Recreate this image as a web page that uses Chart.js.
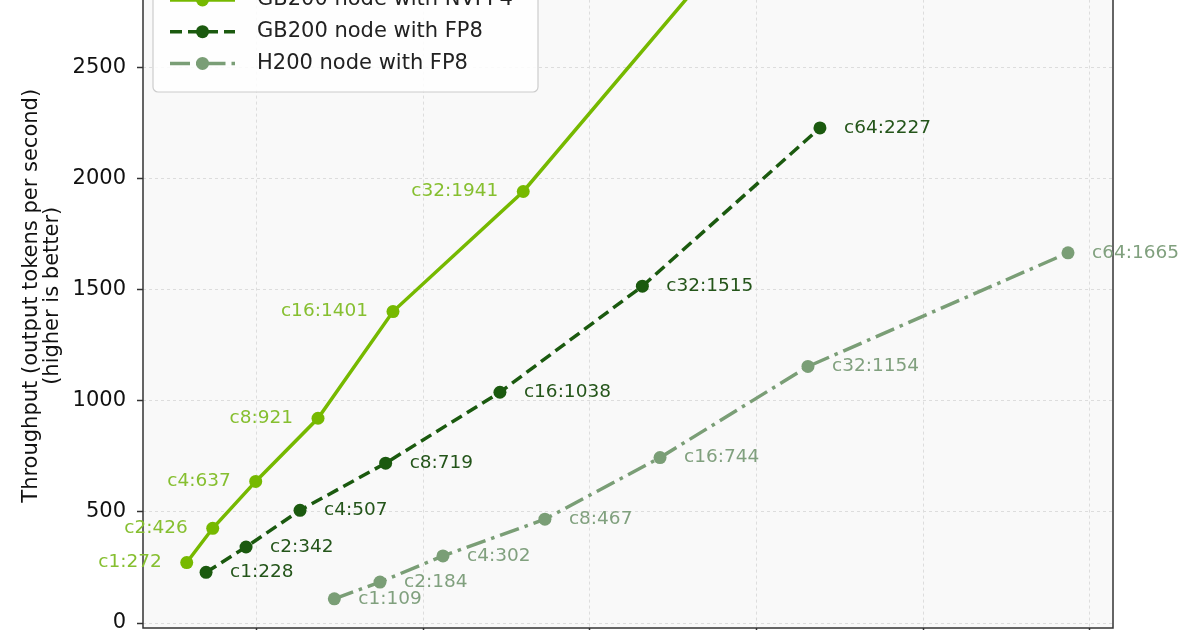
<!DOCTYPE html>
<html>
<head>
<meta charset="utf-8">
<script src="https://cdn.jsdelivr.net/npm/chart.js@4.4.1/dist/chart.umd.min.js"></script>
<style>
    html, body { margin: 0; padding: 0; background: #fff; overflow: hidden; }
    #wrap { position: relative; width: 1200px; height: 630px; overflow: hidden; }
    #throughputChart { position: absolute; left: 0; top: -60px; }
</style>
</head>
<body>
<div id="wrap"><canvas id="throughputChart" width="1200" height="718"></canvas></div>
<script>
const concurrency = ["c1", "c2", "c4", "c8", "c16", "c32", "c64"];

const nvfp4Latency = [5.80, 7.36, 9.94, 13.68, 18.18, 26.0, 40.8];
const nvfp4Throughput = [272, 426, 637, 921, 1401, 1941, 3250];

const gb200Fp8Latency = [6.96, 9.36, 12.60, 17.74, 24.60, 33.15, 43.81];
const gb200Fp8Throughput = [228, 342, 507, 719, 1038, 1515, 2227];

const h200Fp8Latency = [14.66, 17.40, 21.18, 27.30, 34.21, 43.09, 58.70];
const h200Fp8Throughput = [109, 184, 302, 467, 744, 1154, 1665];

const yTicks = [0, 500, 1000, 1500, 2000, 2500];
const xTicks = [10, 20, 30, 40, 50, 60];

const seriesNames = ["GB200 node with NVFP4", "GB200 node with FP8", "H200 node with FP8"];

function toPoints(xs, ys) {
    return xs.map((x, i) => ({ x: x, y: ys[i] }));
}

document.addEventListener("DOMContentLoaded", function() {
    const font = "'DejaVu Sans', sans-serif";

    // label side and colour for each series
    let labelStyle = [
        { side: "left", color: "#86bf30" },
        { side: "right", color: "#24551a" },
        { side: "right", color: "#80a07e" }
    ];

    let plotBackground = {
        id: "plotBackground",
        beforeDraw(chart) {
            let ctx = chart.ctx, a = chart.chartArea;
            ctx.save();
            ctx.fillStyle = "#ffffff";
            ctx.fillRect(0, 0, chart.width, chart.height);
            ctx.fillStyle = "#f9f9f9";
            ctx.fillRect(a.left, a.top, a.right - a.left, a.bottom - a.top);
            ctx.restore();
        }
    };

    let pointLabels = {
        id: "pointLabels",
        afterDatasetsDraw(chart) {
            let ctx = chart.ctx, a = chart.chartArea;
            ctx.save();
            ctx.strokeStyle = "#333";
            ctx.lineWidth = 1.5;
            ctx.strokeRect(a.left, a.top, a.right - a.left, a.bottom - a.top);
            ctx.font = "18.5px " + font;
            ctx.textBaseline = "middle";
            chart.data.datasets.forEach((ds, di) => {
                let meta = chart.getDatasetMeta(di);
                let st = labelStyle[di];
                ctx.fillStyle = st.color;
                ctx.textAlign = st.side === "left" ? "right" : "left";
                meta.data.forEach((pt, i) => {
                    let text = concurrency[i] + ":" + ds.data[i].y;
                    let dx = st.side === "left" ? -25 : 24;
                    ctx.fillText(text, pt.x + dx, pt.y);
                });
            });
            ctx.restore();
        }
    };

    let boxLegend = {
        id: "boxLegend",
        afterDraw(chart) {
            let ctx = chart.ctx;
            let off = 60;
            ctx.save();
            ctx.beginPath();
            ctx.roundRect(153, off - 40, 385, 92 + 40, 5);
            ctx.fillStyle = "rgba(255,255,255,0.85)";
            ctx.fill();
            ctx.strokeStyle = "#cccccc";
            ctx.lineWidth = 1.2;
            ctx.stroke();
            chart.data.datasets.forEach((ds, i) => {
                let y = off + i * 31.7;
                ctx.beginPath();
                ctx.setLineDash(ds.borderDash || []);
                ctx.strokeStyle = ds.borderColor;
                ctx.lineWidth = ds.borderWidth;
                ctx.moveTo(170, y);
                ctx.lineTo(235, y);
                ctx.stroke();
                ctx.setLineDash([]);
                ctx.beginPath();
                ctx.arc(202.5, y, 6.5, 0, Math.PI * 2);
                ctx.fillStyle = ds.pointBackgroundColor;
                ctx.fill();
                ctx.fillStyle = "#222";
                ctx.font = "21px " + font;
                ctx.textBaseline = "middle";
                ctx.textAlign = "left";
                ctx.fillText(seriesNames[i], 257, y);
            });
            ctx.restore();
        }
    };

    let throughputChart = new Chart(document.getElementById("throughputChart"), {
        type: "line",
        data: {
            datasets: [{
                label: seriesNames[0],
                data: toPoints(nvfp4Latency, nvfp4Throughput),
                borderColor: "#76b900",
                pointBackgroundColor: "#76b900",
                pointBorderColor: "#76b900",
                borderWidth: 3.5,
                pointRadius: 6.5,
                pointBorderWidth: 0,
                fill: false
            }, {
                label: seriesNames[1],
                data: toPoints(gb200Fp8Latency, gb200Fp8Throughput),
                borderColor: "#1b5a0f",
                pointBackgroundColor: "#1b5a0f",
                pointBorderColor: "#1b5a0f",
                borderWidth: 3.5,
                borderDash: [12, 6],
                pointRadius: 6.5,
                pointBorderWidth: 0,
                fill: false
            }, {
                label: seriesNames[2],
                data: toPoints(h200Fp8Latency, h200Fp8Throughput),
                borderColor: "#7a9e76",
                pointBackgroundColor: "#7a9e76",
                pointBorderColor: "#7a9e76",
                borderWidth: 3.5,
                borderDash: [20, 6, 3.5, 6],
                pointRadius: 6.5,
                pointBorderWidth: 0,
                fill: false
            }]
        },
        options: {
            responsive: false,
            animation: false,
            layout: { padding: { left: 0, right: 87, top: 20, bottom: 0 } },
            plugins: {
                legend: { display: false },
                tooltip: { enabled: false }
            },
            scales: {
                x: {
                    type: "linear",
                    min: 3.175,
                    max: 61.4,
                    afterBuildTicks: scale => { scale.ticks = xTicks.map(v => ({ value: v })); },
                    afterFit: scale => { scale.height = 30; },
                    ticks: { display: false },
                    grid: { color: "#dddddd", lineWidth: 1, tickLength: 6, tickColor: "#333", tickWidth: 1.5, tickBorderDash: [] },
                    border: { display: false, dash: [3, 3] }
                },
                y: {
                    type: "linear",
                    min: -22.4,
                    max: 2966,
                    afterBuildTicks: scale => { scale.ticks = yTicks.map(v => ({ value: v })); },
                    afterFit: scale => { scale.width = 143; },
                    ticks: {
                        color: "#111",
                        font: { family: font, size: 21 },
                        padding: 11,
                        callback: v => String(v)
                    },
                    grid: { color: "#dddddd", lineWidth: 1, tickLength: 6, tickColor: "#333", tickWidth: 1.5, tickBorderDash: [] },
                    border: { display: false, dash: [3, 3] },
                    title: {
                        display: true,
                        text: ["Throughput (output tokens per second)", "(higher is better)"],
                        color: "#111",
                        font: { family: font, size: 21, lineHeight: 1.0 },
                        padding: { top: 21, bottom: 0 }
                    }
                }
            }
        },
        plugins: [plotBackground, pointLabels, boxLegend]
    });
});
</script>
</body>
</html>
